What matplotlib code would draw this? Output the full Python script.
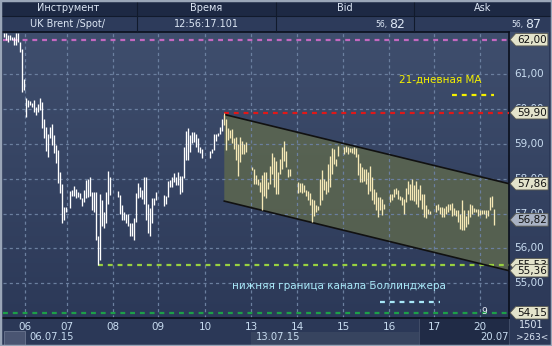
import matplotlib.pyplot as plt
import numpy as np
from matplotlib.patches import Rectangle
from matplotlib.path import Path
from matplotlib.transforms import Bbox
from matplotlib.colors import LinearSegmentedColormap

# hourly high / low of UK Brent, None = no trading in that hour slot
highs = [
    # 03.07 - 06.07
    62.20, 62.20, 62.13, 62.14, 62.08, 62.08, 62.18, 62.20, 61.94, 61.72, 60.86, 60.31, 60.26, 60.23, 60.18, 60.26,
    60.07, 60.15, 60.31, 60.21, 59.71, 59.48, 59.28, 59.50, 59.59, 59.26, 58.97, 58.82, 58.20, 57.84, 57.20, 57.20,
    None,
    # 07.07
    57.65, 57.67, 57.79, 57.70, 57.62, 57.60, 57.44, 57.67, 57.96, 57.99, 58.04, 57.61, 57.61, 57.62, 56.35, 57.55,
    57.39, 57.05, 57.61, 58.22, 58.06,
    None, None, None,
    # 08.07
    57.65, 57.53, 57.26, 57.05, 57.00, 56.98, 56.74, 56.74, 56.86, 57.58, 57.87, 57.77, 57.68, 58.06, 58.06, 57.29,
    57.15, 57.46, 57.46, 57.61,
    None, None, None,
    # 09.07
    57.53, 57.50, 57.93, 57.98, 58.06, 58.17, 58.06, 58.20, 58.09, 58.08, 58.92, 59.37, 59.46, 59.27, 59.35, 59.34,
    59.30, 59.16, 58.92, 58.87,
    None, None, None,
    # 10.07
    58.80, 58.87, 59.30, 59.30, 59.32, 59.48, 59.73, 59.90, 59.73, 59.45, 59.40, 59.43, 59.16, 59.19, 59.00, 59.21,
    59.10, 59.00, 59.05,
    None, None,
    # 13.07
    58.35, 58.29, 58.10, 58.00, 57.90, 58.10, 58.19, 58.21, 57.90, 58.38, 58.73, 58.62, 58.52, 58.19, 58.57, 58.92,
    59.10, 58.81, 58.29, 58.29,
    None, None, None,
    # 14.07
    57.92, 57.88, 57.88, 57.81, 57.67, 57.65, 57.59, 57.43, 57.38, 57.24, 57.21, 58.00, 58.24, 58.00, 57.95, 58.43,
    58.67, 58.88, 58.86, 58.57, 58.95,
    None, None,
    # 15.07
    58.92, 58.95, 58.92, 58.90, 58.89, 58.92, 58.89, 58.71, 58.45, 58.33, 58.29, 58.29, 58.19, 58.38, 58.05, 57.71,
    57.62, 57.48, 57.48, 57.43, 57.29,
    None, None,
    # 16.07
    57.57, 57.57, 57.71, 57.74, 57.67, 57.52, 57.48, 57.43, 57.73, 57.93, 57.86, 58.00, 57.81, 57.93, 57.71, 57.81,
    57.57, 57.57, 57.24, 57.14, 57.08,
    None, None,
    # 17.07 - 20.07
    57.26, 57.27, 57.19, 57.19, 57.17, 57.21, 57.29, 57.29, 57.30, 57.17, 57.11, 57.10, 57.00, 57.40, 57.11, 56.92,
    57.10, 57.29, 57.24, 57.17, 57.14, 57.14, 57.11, 57.10, 57.10, 57.11, 57.11, 57.48, 57.50, 57.14,
]
lows = [
    62.08, 61.99, 61.94, 61.99, 61.99, 61.85, 61.84, 61.94, 61.65, 60.50, 60.55, 59.78, 60.07, 60.12, 60.07, 59.93,
    59.83, 59.93, 59.97, 59.45, 59.18, 58.81, 58.63, 59.16, 58.97, 58.73, 58.46, 57.87, 57.60, 56.72, 56.81, 57.05,
    None,
    57.17, 57.50, 57.51, 57.44, 57.48, 57.43, 57.22, 57.34, 57.46, 57.48, 57.50, 57.10, 57.04, 56.24, 55.53, 55.66,
    56.63, 56.58, 56.74, 57.29, 57.53,
    None, None, None,
    57.48, 56.98, 56.83, 56.81, 56.72, 56.63, 56.36, 56.36, 56.24, 56.77, 57.46, 57.48, 57.41, 57.29, 56.81, 56.45,
    56.36, 56.72, 57.24, 57.39,
    None, None, None,
    57.22, 57.29, 57.48, 57.77, 57.77, 57.92, 57.82, 57.82, 57.55, 57.63, 58.03, 58.54, 58.54, 58.76, 59.02, 59.05,
    58.92, 58.76, 58.73, 58.60,
    None, None, None,
    58.60, 58.73, 58.82, 59.08, 59.23, 59.30, 59.38, 59.54, 58.82, 59.11, 59.16, 59.02, 58.87, 58.54, 58.08, 58.48,
    58.71, 58.71, 58.76,
    None, None,
    58.24, 57.86, 57.86, 57.81, 57.62, 57.10, 57.52, 57.45, 57.71, 57.84, 58.14, 57.76, 57.57, 57.57, 58.14, 58.29,
    58.52, 58.33, 58.05, 58.07,
    None, None, None,
    57.59, 57.62, 57.59, 57.62, 57.52, 57.40, 57.24, 56.76, 56.92, 57.05, 57.10, 57.24, 57.38, 57.67, 57.57, 57.62,
    57.76, 58.14, 58.43, 58.38, 58.67,
    None, None,
    58.71, 58.76, 58.71, 58.76, 58.74, 58.71, 58.62, 58.10, 57.90, 57.90, 57.95, 57.86, 57.57, 57.64, 57.38, 57.29,
    57.10, 56.90, 57.10, 56.95, 57.14,
    None, None,
    57.33, 57.38, 57.48, 57.57, 57.43, 57.38, 57.24, 57.00, 57.33, 57.57, 57.40, 57.40, 57.36, 57.29, 57.19, 57.38,
    57.14, 56.90, 56.86, 56.98, 56.98,
    None, None,
    57.05, 57.10, 57.00, 56.90, 56.90, 57.00, 57.05, 57.10, 56.92, 56.95, 56.92, 56.76, 56.57, 56.52, 56.52, 56.62,
    56.71, 56.90, 56.98, 57.05, 57.05, 56.93, 56.95, 57.00, 56.98, 56.88, 56.93, 57.10, 57.19, 56.67,
]

day_labels = ['06', '07', '08', '09', '10', '13', '14', '15', '16', '17', '20']
day_pos = [10.5, 31.5, 54.5, 77, 100.5, 123.5, 146.5, 169.5, 192.5, 215, 238]
week_labels = ['06.07.15', '13.07.15', '20.07.1']
week_pos = [12.3, 125.8, 237.8]

grid_levels = [55, 56, 57, 58, 59, 60, 61]
axis_labels = ['61,00', '60,00', '59,00', '58,00', '57,00', '56,00', '55,00']
axis_values = [61, 60, 59, 58, 57, 56, 55]
tag_labels = ['62,00', '59,90', '57,86', '56,82', '55,53', '55,36', '54,15']
tag_values = [62.00, 59.90, 57.86, 56.82, 55.53, 55.36, 54.15]

# channel (start bar, upper/lower at start and at right edge)
chan_start = 110
chan_upper = (59.85, 57.86)
chan_lower = (57.36, 55.36)

W, H = 552, 346
XMIN, XMAX = -0.65, 252.35
YMIN, YMAX = 54.0, 62.22
TXT = '#c8dcf0'

fig = plt.figure(figsize=(W / 100, H / 100), dpi=100)
fig.patch.set_facecolor('#2b3857')

# panels outside the plot (drawn underneath everything)
fig.patches.append(Rectangle((0, 1 - 16 / H), 1, 16 / H, transform=fig.transFigure,
                             fc='#1d2944', ec='none', zorder=-2))
fig.patches.append(Rectangle((0, 1 - 32 / H), 1, 16 / H, transform=fig.transFigure,
                             fc='#2d3b5b', ec='none', zorder=-2))
fig.patches.append(Rectangle((251 / W, 1 - 346 / H), 168 / W, 14 / H, transform=fig.transFigure,
                             fc='#37445f', ec='none', zorder=-2))
fig.patches.append(Rectangle((4 / W, 1 - 345 / H), 21 / W, 14 / H, transform=fig.transFigure,
                             fc='#4a5572', ec='#6a7590', lw=0.6, zorder=-2))
fig.patches.append(Rectangle((419 / W, 1 - 346 / H), 90 / W, 28 / H, transform=fig.transFigure,
                             fc='#202b46', ec='#46526c', lw=0.6, zorder=-2))

# gradient background behind plot + price column
bg = fig.add_axes([3 / W, 1 - 318 / H, 546 / W, 286 / H], zorder=-1)
grad = np.linspace(0, 1, 256).reshape(-1, 1)
cmap = LinearSegmentedColormap.from_list('bg', ['#3f4e6d', '#2c3958'])
bg.imshow(grad, aspect='auto', cmap=cmap, extent=[0, 1, 0, 1])
bg.axis('off')

ax = fig.add_axes([3 / W, 1 - 318 / H, 506 / W, 286 / H])
ax.patch.set_alpha(0)
ax.set_xlim(XMIN, XMAX)
ax.set_ylim(YMIN, YMAX)

# grid
for lv in grid_levels:
    ax.axhline(lv, color='#6b7f9f', lw=0.9, ls=(0, (2.5, 2.5)), zorder=2)
for p in day_pos:
    ax.axvline(p, color='#6b7f9f', lw=0.9, ls=(0, (2.5, 2.5)), zorder=2)

# channel
xs = [chan_start, XMAX, XMAX, chan_start]
ys = [chan_upper[0], chan_upper[1], chan_lower[1], chan_lower[0]]
ax.fill(xs, ys, color='#626c4c', alpha=0.75, lw=0, zorder=1)
ax.plot([chan_start, XMAX], chan_upper, color='#111111', lw=1.2, zorder=4)
ax.plot([chan_start, XMAX], chan_lower, color='#111111', lw=1.2, zorder=4)

# bars
idx = np.arange(len(highs))
hi = np.array([np.nan if v is None else v for v in highs])
lo = np.array([np.nan if v is None else v for v in lows])
ok = ~np.isnan(hi)
outside = ok & (idx < chan_start)
inside = ok & (idx >= chan_start)
ax.vlines(idx[outside], lo[outside], hi[outside], color='#ffffff', lw=0.95, zorder=5)
ax.vlines(idx[inside], lo[inside], hi[inside], color='#f6e9b6', lw=0.95, zorder=5)

# levels
dash = (0, (2.2, 2.2))
ax.plot([XMIN, XMAX], [62.0, 62.0], color='#c468c0', lw=1.6, ls=dash, zorder=3)
ax.plot([chan_start, XMAX], [59.90, 59.90], color='#e01818', lw=1.6, ls=dash, zorder=3)
ax.plot([47, XMAX], [55.53, 55.53], color='#98d040', lw=1.6, ls=dash, zorder=3)
ax.plot([XMIN, XMAX], [54.15, 54.15], color='#1ca048', lw=1.6, ls=dash, zorder=3)

# annotations
ax.text(197.5, 60.84, '21-дневная МА', color='#f4f000', fontsize=7.5, va='center', ha='left', zorder=6)
ax.plot([224, 245], [60.41, 60.41], color='#f4f000', lw=1.6, ls=dash, zorder=6)
ax.text(114, 54.92, 'нижняя граница канала Боллинджера', color='#a8e8f8', fontsize=7.5,
        va='center', ha='left', zorder=6)
ax.plot([188, 218], [54.46, 54.46], color='#a8e8f8', lw=1.6, ls=dash, zorder=6)
ax.text(240, 54.2, '9', color='#e8eef8', fontsize=6.5, va='center', ha='center', zorder=6)

# x ticks
ax.set_xticks(day_pos)
ax.set_xticklabels(day_labels)
ax.set_yticks([])
ax.tick_params(axis='x', length=0, pad=3, labelsize=7.5, labelcolor=TXT)
for s in ax.spines.values():
    s.set_color('#0a0f1c')
    s.set_linewidth(1.2)
ax.spines['left'].set_visible(False)

# week dates
trans = ax.get_xaxis_transform()
clip = Bbox.from_extents(0, 0, 508, H)
for lab, p in zip(week_labels, week_pos):
    t = ax.text(p, -0.068, lab, transform=trans, color=TXT, fontsize=7.2,
                ha='left', va='center', clip_on=True)
    t.set_clip_box(clip)

# price column
ytr = ax.get_yaxis_transform()
for lab, v in zip(axis_labels, axis_values):
    ax.text(1.0 + 5 / 506, v, lab, transform=ytr, color=TXT, fontsize=7.5,
            ha='left', va='center', clip_on=False)


def tag_box(x0, y0, width, height, mutation_size):
    pad = mutation_size * 0.12
    x0 -= pad
    y0 -= pad
    width += 2 * pad
    height += 2 * pad
    tip = height * 0.45
    v = [(x0 - tip, y0 + height / 2), (x0, y0), (x0 + width, y0),
         (x0 + width, y0 + height), (x0, y0 + height), (x0 - tip, y0 + height / 2)]
    return Path(v, closed=True)


for lab, v in zip(tag_labels, tag_values):
    face = '#a9b2c4' if lab == '56,82' else '#e3e3cb'
    ax.text(1.0 + 8 / 506, v, lab, transform=ytr, color='#111111', fontsize=7.5,
            ha='left', va='center', clip_on=False, zorder=8,
            bbox=dict(boxstyle=tag_box, fc=face, ec='#5a5a50', lw=0.6))

# header table
for xs_ in [137, 276, 414]:
    fig.add_artist(plt.Line2D([xs_ / W, xs_ / W], [1 - 32 / H, 1], color='#111a2c', lw=0.8))
fig.add_artist(plt.Line2D([0, 1], [1 - 16 / H, 1 - 16 / H], color='#111a2c', lw=0.8))
hdr = ['Инструмент', 'Время', 'Bid', 'Ask']
hdr_x = [68, 206, 345, 483]
for t, x in zip(hdr, hdr_x):
    fig.text(x / W, 1 - 8 / H, t, color='#dce6f4', fontsize=7, ha='center', va='center')
fig.text(68 / W, 1 - 24 / H, 'UK Brent /Spot/', color='#dce6f4', fontsize=7, ha='center', va='center')
fig.text(206 / W, 1 - 24 / H, '12:56:17.101', color='#dce6f4', fontsize=7, ha='center', va='center')
fig.text(387 / W, 1 - 25 / H, '56,', color='#dce6f4', fontsize=5.5, ha='right', va='center')
fig.text(389 / W, 1 - 24 / H, '82', color='#dce6f4', fontsize=9, ha='left', va='center')
fig.text(523 / W, 1 - 25 / H, '56,', color='#dce6f4', fontsize=5.5, ha='right', va='center')
fig.text(525 / W, 1 - 24 / H, '87', color='#dce6f4', fontsize=9, ha='left', va='center')

# bottom-right counter panel
fig.text(531 / W, 1 - 325 / H, '1501', color='#dce6f4', fontsize=7, ha='center', va='center')
fig.text(532 / W, 1 - 338 / H, '>263<', color='#dce6f4', fontsize=6.5, ha='center', va='center')

# frame
fig.patches.append(Rectangle((0, 0), 1, 1, transform=fig.transFigure, fill=False,
                             ec='#9aa6b8', lw=2.5, zorder=10))

fig.savefig('out.png', dpi=100, facecolor=fig.get_facecolor())
